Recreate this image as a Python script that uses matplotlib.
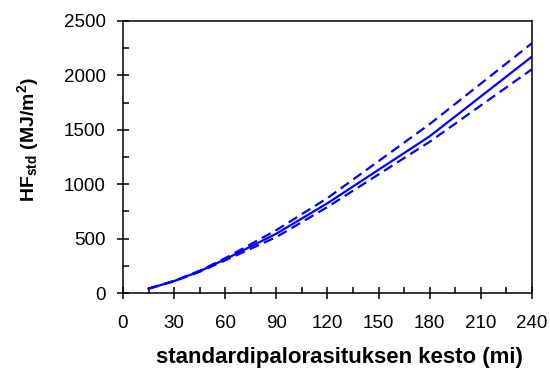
import matplotlib
matplotlib.use('Agg')
import matplotlib.pyplot as plt
from matplotlib.ticker import MultipleLocator

plt.rcParams['font.family'] = ['Liberation Sans', 'DejaVu Sans']
plt.rcParams['mathtext.default'] = 'regular'

# Standard fire exposure duration (min) and heat load HF_std (MJ/m2)
kesto = [15, 30, 45, 60, 90, 120, 180, 240]
hf_mean = [40, 110, 200, 310, 545, 825, 1440, 2172]
hf_upper = [40, 112, 205, 320, 578, 872, 1552, 2295]
hf_lower = [40, 108, 195, 300, 514, 790, 1390, 2056]

fig = plt.figure(figsize=(5.5, 3.71), dpi=100)
ax = fig.add_axes([0.2236, 0.2102, 0.7434, 0.7332])

blue = '#0000ff'
ax.plot(kesto, hf_mean, color=blue, lw=1.6)
ax.plot(kesto, hf_upper, color=blue, lw=1.6, ls=(0, (4.5, 2.5)))
ax.plot(kesto, hf_lower, color=blue, lw=1.6, ls=(0, (4.5, 2.5)))

ax.set_xlim(0, 240)
ax.set_ylim(0, 2500)
ax.xaxis.set_major_locator(MultipleLocator(30))
ax.xaxis.set_minor_locator(MultipleLocator(15))
ax.yaxis.set_major_locator(MultipleLocator(500))
ax.yaxis.set_minor_locator(MultipleLocator(250))
ax.tick_params(which='major', direction='inout', length=9, width=1.1,
               labelsize=13.5)
ax.tick_params(axis='x', which='major', pad=11.5)
ax.tick_params(axis='y', which='major', pad=8)
ax.tick_params(which='minor', direction='in', length=4.5, width=1.1)
for s in ax.spines.values():
    s.set_linewidth(1.1)

ax.set_xlabel('standardipalorasituksen kesto (mi)', fontsize=16,
              fontweight='bold')
ax.xaxis.set_label_coords(0.53, -0.2)
ax.set_ylabel('HF$_{std}$ (MJ/m$^{2}$)', fontsize=14, fontweight='bold')
ax.yaxis.set_label_coords(-0.2, 0.5625)

fig.savefig('out.png', dpi=100)
